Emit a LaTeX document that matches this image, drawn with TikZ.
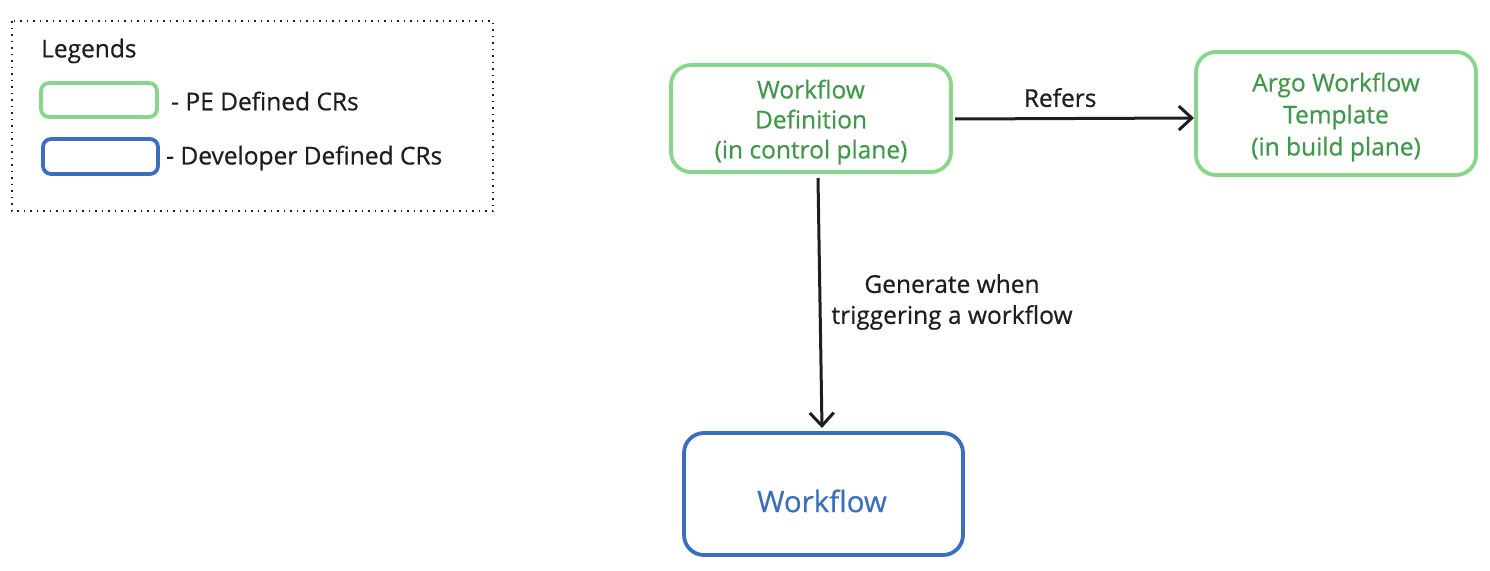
\documentclass[tikz,border=0pt]{standalone}
\usepackage{fontspec}
\setmainfont[FakeBold=0.6]{Open Sans}
\usetikzlibrary{arrows.meta}
\definecolor{gstroke}{HTML}{86D888}
\definecolor{gtext}{HTML}{40994A}
\definecolor{bstroke}{HTML}{3B6FBE}
\definecolor{ink}{HTML}{1E1E1E}
\tikzset{
  pebox/.style={draw=gstroke, line width=3.8pt, rounded corners=20pt, text=gtext, align=center, font=\fontsize{24.5}{30}\selectfont, inner sep=0pt},
  devbox/.style={draw=bstroke, line width=3.8pt, rounded corners=20pt, text=bstroke, align=center, font=\fontsize{29.5}{30}\selectfont, inner sep=0pt},
  legbox/.style={line width=3.8pt, rounded corners=8pt, inner sep=0pt},
  lbl/.style={text=ink, font=\fontsize{24.5}{31}\selectfont, align=center, inner sep=0pt},
  conn/.style={draw=ink, line width=3pt, -{Straight Barb[length=13pt,width=24pt,line width=3pt]}}
}
\begin{document}
\begin{tikzpicture}[x=1pt,y=-1pt]
\useasboundingbox (0,0) rectangle (1490,570);
% legend
\draw[ink, line width=1.3pt, dash pattern=on 1.5pt off 5pt] (12,21) rectangle (493,211);
\node[lbl, anchor=west] (legtitle) at (41,51) {Legends};
\node[legbox, draw=gstroke, minimum width=116pt, minimum height=34pt] (legpe) at (99,100) {};
\node[legbox, draw=bstroke, minimum width=115pt, minimum height=35pt] (legdev) at (100.5,156.5) {};
\node[lbl, anchor=west] (legpetxt) at (171,101) {- PE Defined CRs};
\node[lbl, anchor=west] (legdevtxt) at (166,158) {- Developer Defined CRs};
% main
\node[pebox, minimum width=280pt, minimum height=107pt] (wfd) at (811,118.5) {};
\node[gtext, align=center, font=\fontsize{24.5}{30}\selectfont, inner sep=0pt] (wfdtxt) at (811,122) {Workflow\\Definition\\(in control plane)};
\node[pebox, minimum width=280pt, minimum height=123pt] (argo) at (1336,113.5) {};
\node[gtext, align=center, font=\fontsize{24.5}{32}\selectfont, inner sep=0pt] (argotxt) at (1336,117) {Argo Workflow\\Template\\(in build plane)};
\node[devbox, minimum width=279pt, minimum height=122pt] (wf) at (823.5,494) {};
\node[bstroke, font=\fontsize{29.5}{30}\selectfont, inner sep=0pt] (wftxt) at (822,501) {Workflow};
\coordinate (wfdR) at (955,119);
\coordinate (argoL) at (1194,118);
\draw[conn] (wfdR) -- node[lbl, above=10pt, pos=0.44] (refers) {Refers} (argoL);
\coordinate (wfdB) at (818,178);
\coordinate (wfT) at (822,428);
\draw[conn] (wfdB) -- (wfT);
\node[lbl] (gen) at (952,302) {Generate when\\triggering a workflow};
\end{tikzpicture}
\end{document}
